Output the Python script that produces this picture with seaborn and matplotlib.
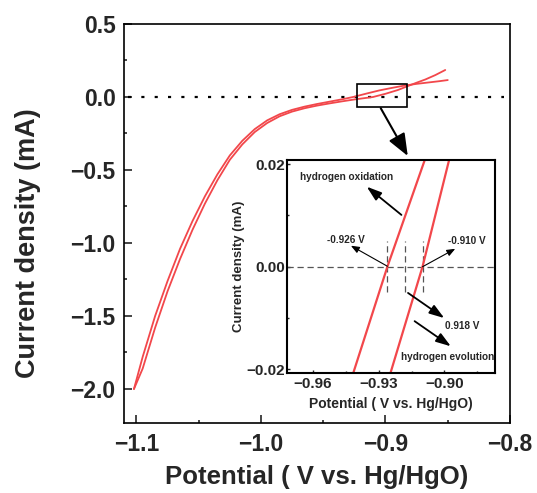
import matplotlib
matplotlib.use("Agg")
import matplotlib.pyplot as plt
import seaborn as sns
import pandas as pd
from matplotlib.patches import Rectangle
from matplotlib.ticker import MultipleLocator

# ---------------- data ----------------
# sweep 1 (upper branch, hydrogen oxidation side)
ox_potential = [-1.102, -1.095, -1.085, -1.075, -1.065, -1.055, -1.045, -1.035, -1.025,
                -1.015, -1.005, -0.995, -0.985, -0.975, -0.965, -0.955, -0.945, -0.935,
                -0.926, -0.915, -0.905, -0.895, -0.885, -0.875, -0.865, -0.857, -0.850]
ox_current = [-2.00, -1.78, -1.50, -1.26, -1.04, -0.85, -0.68, -0.53, -0.40,
              -0.30, -0.22, -0.16, -0.118, -0.088, -0.066, -0.048, -0.032, -0.016,
              0.0, 0.024, 0.045, 0.062, 0.078, 0.090, 0.100, 0.108, 0.116]
# sweep 2 (lower branch, hydrogen evolution side)
ev_potential = [-1.102, -1.095, -1.085, -1.075, -1.065, -1.055, -1.045, -1.035, -1.025,
                -1.015, -1.005, -0.995, -0.985, -0.975, -0.965, -0.955, -0.945, -0.935,
                -0.925, -0.918, -0.910, -0.900, -0.890, -0.882, -0.875, -0.868, -0.860, -0.852]
ev_current = [-2.00, -1.86, -1.58, -1.33, -1.11, -0.91, -0.73, -0.57, -0.43,
              -0.325, -0.24, -0.178, -0.132, -0.100, -0.077, -0.059, -0.044, -0.030,
              -0.017, -0.009, 0.0, 0.022, 0.048, 0.075, 0.098, 0.120, 0.150, 0.185]

# inset (zoomed region around zero current)
inset_ox_potential = [-0.9425, -0.926, -0.9080]
inset_ox_current = [-0.022, 0.0, 0.022]
inset_ev_potential = [-0.9255, -0.910, -0.8972]
inset_ev_current = [-0.022, 0.0, 0.022]

onset_potentials = [-0.926, -0.918, -0.910]
onset_labels = ["-0.926 V", "0.918 V", "-0.910 V"]

main_xticks = [-1.1, -1.0, -0.9, -0.8]
main_yticks = [0.5, 0.0, -0.5, -1.0, -1.5, -2.0]
inset_xticks = [-0.96, -0.93, -0.90]
inset_yticks = [-0.02, 0.00, 0.02]

xlabel = "Potential ( V vs. Hg/HgO)"
ylabel = "Current density (mA)"

RED = "#F2474B"

# ---------------- style ----------------
sns.set_style("ticks")
plt.rcParams["font.family"] = ["Liberation Sans", "DejaVu Sans"]
plt.rcParams["font.weight"] = "bold"
plt.rcParams["axes.labelweight"] = "bold"
plt.rcParams["axes.unicode_minus"] = True

fig = plt.figure(figsize=(5.37, 4.93), dpi=100)
ax = fig.add_axes([124 / 537, 1 - 423 / 493, (510 - 124) / 537, (423 - 24) / 493])

ox_df = pd.DataFrame({"potential": ox_potential, "current": ox_current})
ev_df = pd.DataFrame({"potential": ev_potential, "current": ev_current})
sns.lineplot(data=ox_df, x="potential", y="current", sort=False, estimator=None,
             color=RED, lw=1.3, ax=ax)
sns.lineplot(data=ev_df, x="potential", y="current", sort=False, estimator=None,
             color=RED, lw=1.3, ax=ax)

ax.axhline(0, xmin=0.01, xmax=0.985, color="black", lw=1.6, ls=(0, (1.4, 4.6)), zorder=1)

ax.set_xlim(-1.11, -0.8)
ax.set_ylim(-2.233, 0.5)
ax.set_xticks(main_xticks)
ax.set_yticks(main_yticks)
ax.xaxis.set_minor_locator(MultipleLocator(0.05))
ax.yaxis.set_minor_locator(MultipleLocator(0.25))
ax.tick_params(which="both", direction="in", top=False, right=False, width=1.2,
               labelsize=16.5)
ax.tick_params(which="major", length=5.5)
ax.tick_params(which="minor", length=2.5)
ax.tick_params(axis="y", pad=6)
ax.tick_params(axis="x", pad=7)
for lab in ax.get_xticklabels() + ax.get_yticklabels():
    lab.set_fontweight("bold")
for sp in ax.spines.values():
    sp.set_linewidth(1.2)
    sp.set_color("black")
ax.set_xlabel(xlabel, fontsize=18.5, fontweight="bold")
ax.set_ylabel(ylabel, fontsize=19.5, fontweight="bold")
ax.xaxis.set_label_coords(0.5, -0.105)
ax.yaxis.set_label_coords(-0.215, 0.45)

# zoom window and arrow
ax.add_patch(Rectangle((-0.9228, -0.066), 0.0404, 0.153, fill=False, ec="black",
                       lw=1.2, zorder=3))
ax.annotate("", xy=(-0.8821, -0.404), xytext=(-0.9038, -0.077),
            arrowprops=dict(arrowstyle="-|>,head_length=0.5,head_width=0.2",
                            mutation_scale=27, lw=1.5, color="black",
                            shrinkA=0, shrinkB=0))

# ---------------- inset ----------------
axi = fig.add_axes([287 / 537, 1 - 373 / 493, (495 - 287) / 537, (373 - 160) / 493])
axi.set_facecolor("white")
iox_df = pd.DataFrame({"potential": inset_ox_potential, "current": inset_ox_current})
iev_df = pd.DataFrame({"potential": inset_ev_potential, "current": inset_ev_current})
sns.lineplot(data=iox_df, x="potential", y="current", sort=False, estimator=None,
             color=RED, lw=1.6, ax=axi)
sns.lineplot(data=iev_df, x="potential", y="current", sort=False, estimator=None,
             color=RED, lw=1.6, ax=axi)
axi.axhline(0, color="#555555", lw=0.9, ls=(0, (5, 3)), zorder=1)
axi.vlines(onset_potentials, -0.005, 0.005, colors="#555555", lw=0.9,
           linestyles=[(0, (5, 3))], zorder=1)

axi.set_xlim(-0.9717, -0.877)
axi.set_ylim(-0.0207, 0.0208)
axi.set_xticks(inset_xticks)
axi.set_yticks(inset_yticks)
axi.xaxis.set_minor_locator(MultipleLocator(0.015))
axi.yaxis.set_minor_locator(MultipleLocator(0.01))
axi.tick_params(which="both", direction="in", top=False, right=False, width=1.0,
                labelsize=11)
axi.tick_params(which="major", length=2.5)
axi.tick_params(which="minor", length=1.6)
axi.tick_params(axis="y", pad=1.5)
axi.tick_params(axis="x", pad=3)
for lab in axi.get_xticklabels() + axi.get_yticklabels():
    lab.set_fontweight("bold")
for sp in axi.spines.values():
    sp.set_linewidth(1.5)
    sp.set_color("black")
axi.set_xlabel(xlabel, fontsize=10, fontweight="bold", labelpad=4)
axi.set_ylabel(ylabel, fontsize=9.5, fontweight="bold", labelpad=1)

ann_fs = 7.2
big_head = dict(arrowstyle="-|>,head_length=0.45,head_width=0.15", mutation_scale=20,
                lw=1.3, color="black", shrinkA=0, shrinkB=0)
small_head = dict(arrowstyle="-|>,head_length=0.5,head_width=0.2", mutation_scale=10,
                  lw=0.8, color="black", shrinkA=0, shrinkB=0)

axi.text(-0.9444, 0.0174, "hydrogen oxidation", fontsize=ann_fs, fontweight="bold",
         ha="center", va="center")
axi.annotate("", xy=(-0.9354, 0.0156), xytext=(-0.9196, 0.0101), arrowprops=big_head)

axi.text(-0.9451, 0.0052, onset_labels[0], fontsize=ann_fs, fontweight="bold",
         ha="center", va="center")
axi.annotate("", xy=(-0.9426, 0.0041), xytext=(onset_potentials[0], 0.0001),
             arrowprops=small_head)

axi.text(-0.8900, 0.0051, onset_labels[2], fontsize=ann_fs, fontweight="bold",
         ha="center", va="center")
axi.annotate("", xy=(-0.8951, 0.0035), xytext=(onset_potentials[2], 0.0),
             arrowprops=small_head)

axi.text(-0.8918, -0.0116, onset_labels[1], fontsize=ann_fs, fontweight="bold",
         ha="center", va="center")
axi.annotate("", xy=(-0.9001, -0.0100), xytext=(-0.9166, -0.0051), arrowprops=big_head)

axi.text(-0.8986, -0.0175, "hydrogen evolution", fontsize=ann_fs, fontweight="bold",
         ha="center", va="center")
axi.annotate("", xy=(-0.8971, -0.0155), xytext=(-0.9136, -0.0106), arrowprops=big_head)

fig.savefig("out.png", dpi=100)
